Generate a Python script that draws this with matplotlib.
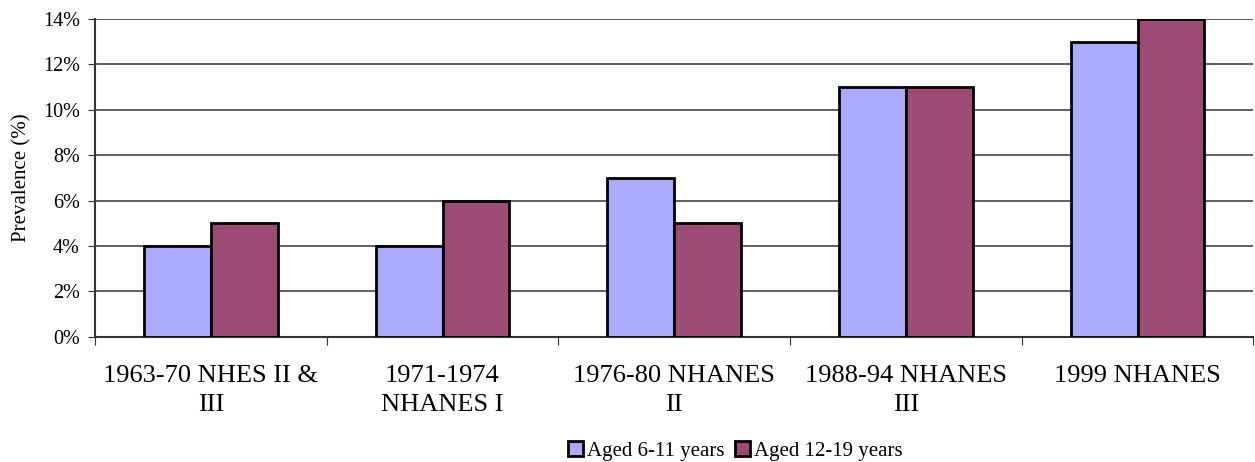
import matplotlib
matplotlib.use("Agg")
from matplotlib import pyplot as plt
import numpy as np

surveys = ["1963-70 NHES II &\nIII", "1971-1974\nNHANES I", "1976-80 NHANES\nII",
           "1988-94 NHANES\nIII", "1999 NHANES"]
aged_6_11 = [4, 4, 7, 11, 13]
aged_12_19 = [5, 6, 5, 11, 14]
yticks = [0, 2, 4, 6, 8, 10, 12, 14]

plt.rcParams['font.family'] = ['Liberation Serif', 'DejaVu Serif']

fig = plt.figure(figsize=(12.55, 4.62), dpi=100)
ax = fig.add_axes([0.0757, 0.271, 0.923, 0.688])

x = np.arange(len(surveys))
w = 0.288
ax.bar(x - w / 2, aged_6_11, w, color='#aaaaff', edgecolor='black', linewidth=2,
       label='Aged 6-11 years', zorder=3)
ax.bar(x + w / 2, aged_12_19, w, color='#9e4a76', edgecolor='black', linewidth=2,
       label='Aged 12-19 years', zorder=3)

ax.set_xlim(-0.5, len(surveys) - 0.5)
ax.set_ylim(0, 14)
ax.set_yticks(yticks)
ax.set_yticklabels([f"{t}%" for t in yticks], fontsize=14.5)
ax.yaxis.grid(True, color='#444444', linewidth=1.2, zorder=0)

ax.set_xticks(np.arange(len(surveys) + 1) - 0.5)
ax.set_xticklabels([])
ax.set_xticks(x, minor=True)
ax.set_xticklabels(surveys, minor=True, fontsize=19, linespacing=1.45)
ax.tick_params(axis='x', which='minor', length=0, pad=20)
ax.tick_params(axis='x', which='major', length=6, color='#333333')
ax.tick_params(axis='y', length=5, color='#333333', pad=6)

for s in ['top', 'right']:
    ax.spines[s].set_visible(False)
ax.spines['left'].set_color('#333333')
ax.spines['left'].set_linewidth(1.5)
ax.spines['bottom'].set_color('#333333')
ax.spines['bottom'].set_linewidth(1.5)

ax.set_ylabel('Prevalence (%)', fontsize=15, labelpad=8)

fig.legend(loc='center', bbox_to_anchor=(0.586, 0.024), ncol=2, frameon=False,
           fontsize=15, handlelength=0.7, handleheight=0.7, handletextpad=0.2,
           columnspacing=0.5)

fig.savefig('out.png', dpi=100)
